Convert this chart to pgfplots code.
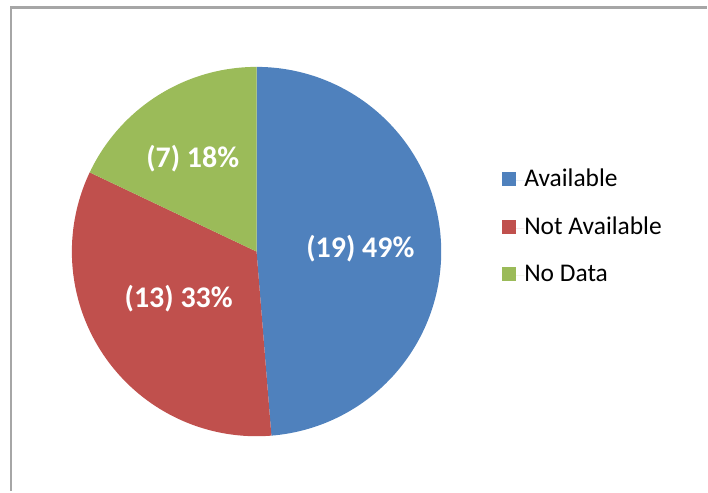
\documentclass[border=0pt]{standalone}
\usepackage{pgfplots}
\pgfplotsset{compat=1.18}
\usepackage{fontspec}
\setmainfont{Carlito}
\definecolor{cAvail}{HTML}{4F81BD}
\definecolor{cNot}{HTML}{C0504D}
\definecolor{cNo}{HTML}{9BBB59}
\definecolor{cBorder}{HTML}{A6A6A6}
% data
\def\vA{19}\def\vB{13}\def\vC{7}
\pgfmathsetmacro{\tot}{\vA+\vB+\vC}
\pgfmathsetmacro{\aA}{90-360*\vA/\tot}
\pgfmathsetmacro{\aB}{\aA-360*\vB/\tot}
\pgfmathsetmacro{\aC}{\aB-360*\vC/\tot}
\def\cx{257}\def\cy{252}\def\R{185}
\begin{document}
\begin{tikzpicture}
\begin{axis}[
  width=708pt, height=492pt, scale only axis,
  xmin=0, xmax=708, ymin=0, ymax=492, y dir=reverse,
  hide axis, clip=false,
  legend style={at={(axis cs:503,170)}, anchor=north west, draw=none, fill=none,
    inner sep=0pt, font=\fontsize{25.5}{30}\selectfont,
    nodes={inner sep=0pt, text height=17pt, text depth=5pt},
    row sep=25.5pt, column sep=0pt},
  legend cell align=left,
  legend image code/.code={\fill[#1] (0pt,-5.5pt) rectangle (14pt,8.5pt); \path (0pt,0pt) -- (22pt,0pt);},
]
\path (rel axis cs:0,0) rectangle (rel axis cs:1,1);
\addplot[fill=cAvail, draw=none, domain=\aA:90, samples=120]
  ({\cx+\R*cos(x)},{\cy-\R*sin(x)}) -- (axis cs:\cx,\cy) -- cycle;
\addlegendentry{Available}
\addplot[fill=cNot, draw=none, domain=\aB:\aA, samples=90]
  ({\cx+\R*cos(x)},{\cy-\R*sin(x)}) -- (axis cs:\cx,\cy) -- cycle;
\addlegendentry{Not Available}
\addplot[fill=cNo, draw=none, domain=\aC:\aB, samples=60]
  ({\cx+\R*cos(x)},{\cy-\R*sin(x)}) -- (axis cs:\cx,\cy) -- cycle;
\addlegendentry{No Data}
\begin{scope}[every node/.style={text=white, font=\fontsize{30}{35}\selectfont\bfseries}]
\node at (axis cs:361,249) {(19) 49\%};
\node at (axis cs:179,299) {(13) 33\%};
\node at (axis cs:193,159) {(7) 18\%};
\end{scope}
\draw[cBorder, line width=2.5pt] (axis cs:11.25,492) -- (axis cs:11.25,7.75) -- (axis cs:708,7.75);
\end{axis}
\end{tikzpicture}
\end{document}
